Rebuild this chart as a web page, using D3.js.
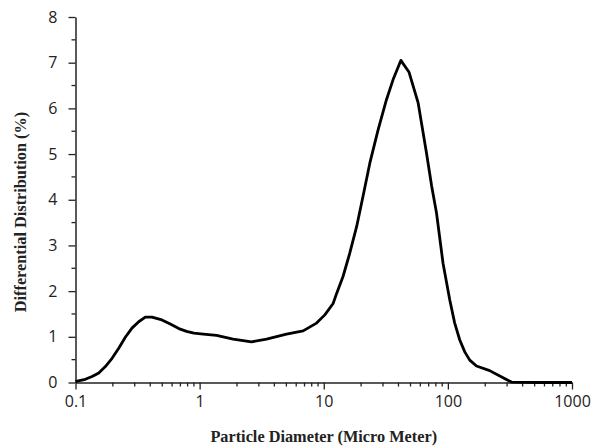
<!DOCTYPE html>
<html>
<head>
<meta charset="utf-8">
<script src="https://cdn.jsdelivr.net/npm/d3@7"></script>
<style>
  body { margin: 0; background: #fff; }
  .tick text { font-family: "Open Sans", sans-serif; font-size: 16px; fill: #222; }
  .title { font-family: "Liberation Serif", "Times New Roman", serif; font-weight: bold; font-size: 16.3px; fill: #222; }
</style>
</head>
<body>
<svg id="chart"></svg>
<script>
// Particle diameter (micro meter) and differential distribution (%)
const diameter = [0.1, 0.103, 0.120, 0.136, 0.154, 0.174, 0.197, 0.223, 0.252, 0.285, 0.323,
  0.365, 0.413, 0.497, 0.580, 0.68, 0.785, 0.9,
  1.07, 1.37, 1.86, 2.62, 3.46, 5.01, 6.82, 8.75, 10.2, 11.9, 12.7, 14.3, 16.2, 18.4, 20.7,
  23.5, 27.4, 32.0, 36.2, 41.8, 48.7, 57.6, 67.3, 74.0, 81.0, 91.4, 103.5, 113.5, 124.7,
  136.8, 150, 170, 217, 262, 325, 550, 1000];
const distribution = [0.02, 0.03, 0.07, 0.13, 0.21, 0.35, 0.53, 0.75, 0.99, 1.19, 1.33,
  1.43, 1.43, 1.37, 1.28, 1.18, 1.12, 1.08,
  1.06, 1.03, 0.95, 0.89, 0.95, 1.06, 1.13, 1.30, 1.48, 1.73, 1.95, 2.32, 2.83, 3.41, 4.07,
  4.80, 5.53, 6.19, 6.63, 7.05, 6.79, 6.12, 5.02, 4.30, 3.71, 2.61, 1.81, 1.30, 0.93,
  0.67, 0.49, 0.36, 0.26, 0.14, 0.01, 0.0, 0.0];
const xTicks = [0.1, 1, 10, 100, 1000];
const yTicks = [0, 1, 2, 3, 4, 5, 6, 7, 8];

const width = 603, height = 448;
const margin = { top: 17, right: 31, bottom: 65.5, left: 75.5 };

const svg = d3.select("#chart").attr("width", width).attr("height", height);

const x = d3.scaleLog().domain([0.1, 1000]).range([margin.left, width - margin.right]);
const y = d3.scaleLinear().domain([0, 8]).range([height - margin.bottom, margin.top]);

// minor ticks: 2..9 in each decade, and half steps on y
const xMinor = [];
for (let e = -1; e < 3; e++) for (let k = 2; k <= 9; k++) xMinor.push(k * Math.pow(10, e));
const yMinor = d3.range(0.5, 8, 1);

const gx = svg.append("g").attr("transform", `translate(0,${y(0)})`);
gx.selectAll("line.minor").data(xMinor).join("line")
  .attr("x1", d => x(d)).attr("x2", d => x(d))
  .attr("y1", 0).attr("y2", 4).attr("stroke", "#222").attr("stroke-width", 1.3);
gx.call(d3.axisBottom(x).tickValues(xTicks).tickFormat(d3.format("~g")).tickSize(7).tickPadding(6).tickSizeOuter(0))
  .call(g => g.selectAll("line").attr("stroke", "#222").attr("stroke-width", 1.3))
  .call(g => g.select(".domain").attr("stroke", "#222").attr("stroke-width", 1.5));

const gy = svg.append("g").attr("transform", `translate(${x(0.1)},0)`);
gy.selectAll("line.minor").data(yMinor).join("line")
  .attr("y1", d => y(d)).attr("y2", d => y(d))
  .attr("x1", 0).attr("x2", -4).attr("stroke", "#222").attr("stroke-width", 1.3);
gy.call(d3.axisLeft(y).tickValues(yTicks).tickSize(7).tickPadding(11).tickSizeOuter(0))
  .call(g => g.selectAll("line").attr("stroke", "#222").attr("stroke-width", 1.3))
  .call(g => g.select(".domain").attr("stroke", "#222").attr("stroke-width", 1.5));

// distribution curve
const line = d3.line()
  .x((d, i) => x(diameter[i]))
  .y(d => y(d))
  .curve(d3.curveLinear);

svg.append("path")
  .datum(distribution)
  .attr("d", line)
  .attr("fill", "none")
  .attr("stroke", "#000")
  .attr("stroke-width", 2.8)
  .attr("stroke-linejoin", "round");

// axis titles
svg.append("text").attr("class", "title")
  .attr("x", (x(0.1) + x(1000)) / 2).attr("y", 442)
  .attr("text-anchor", "middle")
  .text("Particle Diameter (Micro Meter)");

svg.append("text").attr("class", "title")
  .attr("transform", "translate(26,212) rotate(-90)")
  .attr("text-anchor", "middle")
  .text("Differential Distribution (%)");
</script>
</body>
</html>
